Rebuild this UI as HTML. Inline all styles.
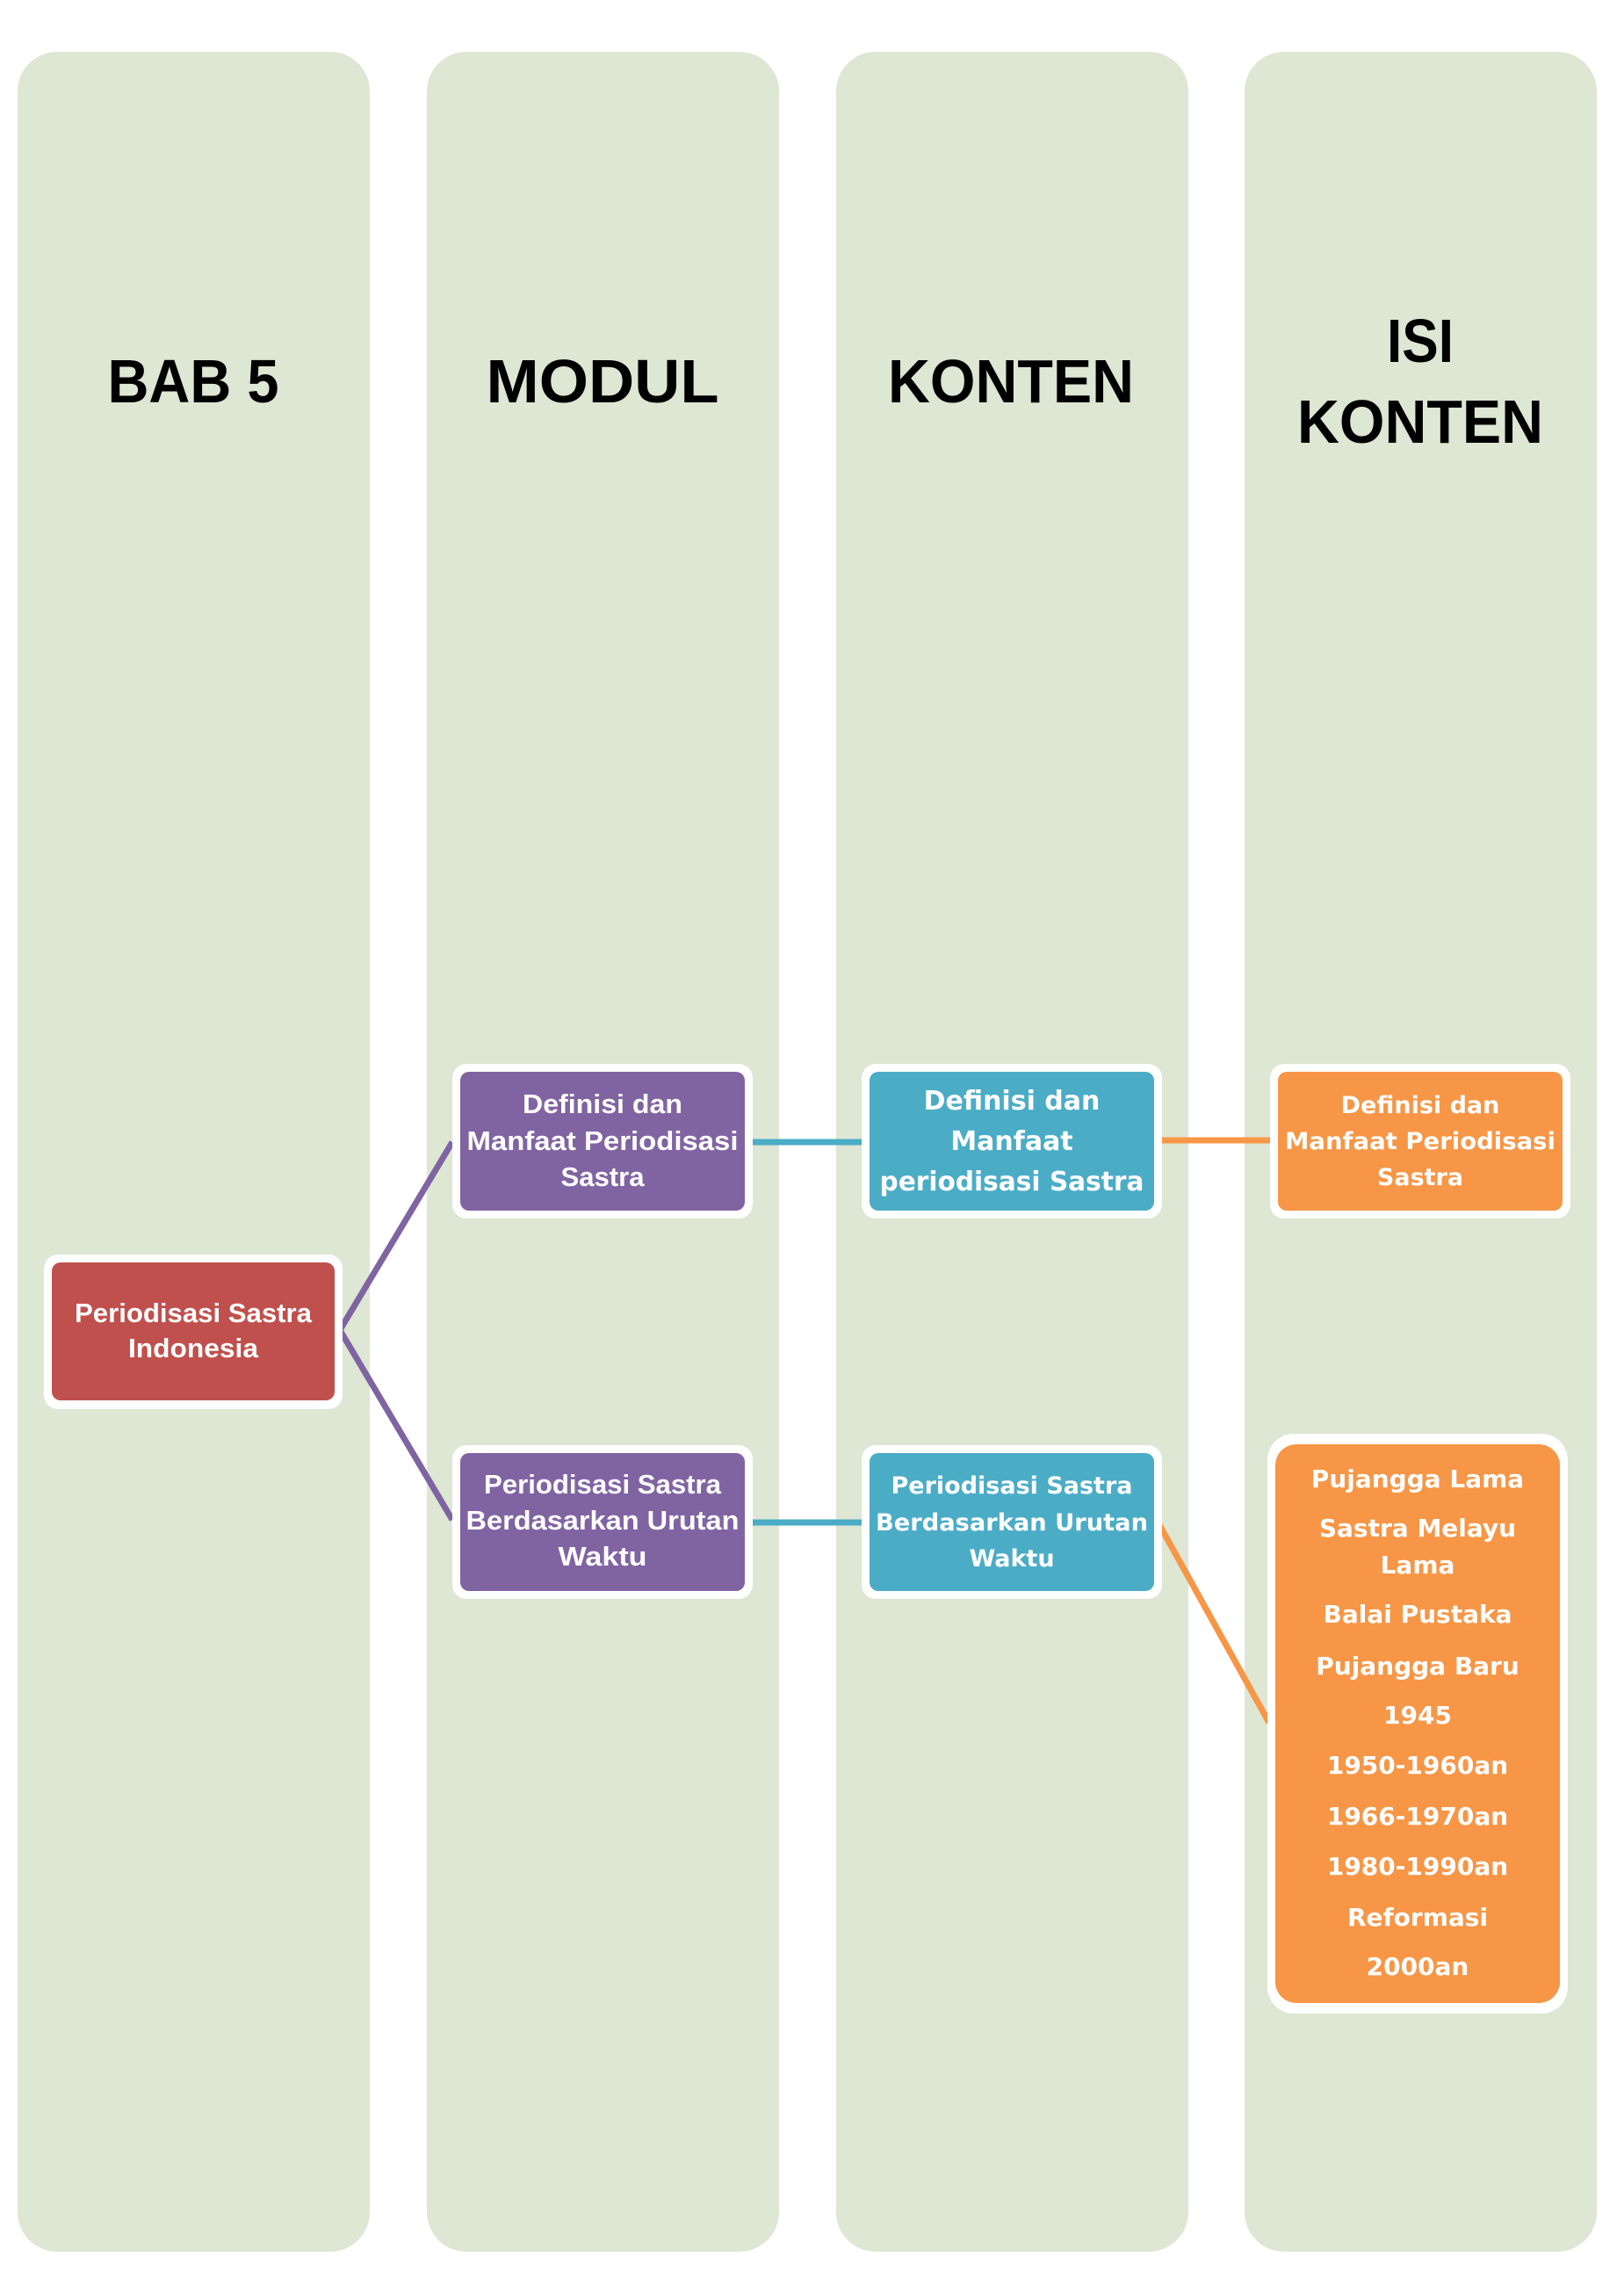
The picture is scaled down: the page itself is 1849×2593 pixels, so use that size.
<!DOCTYPE html>
<html><head><meta charset="utf-8"><style>
html,body{margin:0;padding:0;background:#fff;}
svg{display:block;}
.t{font-family:"Liberation Sans",sans-serif;font-weight:bold;text-anchor:middle;}
.h{font-size:70px;fill:#000;}
.p{font-size:31px;fill:#fff;}
.v{font-family:"DejaVu Sans","Liberation Sans",sans-serif;font-weight:bold;text-anchor:middle;fill:#fff;}
</style></head><body>
<svg width="1849" height="2593" viewBox="0 0 1849 2593" xmlns="http://www.w3.org/2000/svg">
<rect x="0" y="0" width="1849" height="2593" fill="#fff"/>
<g fill="#dde7d3">
<rect x="20" y="59" width="401" height="2504" rx="45" ry="45"/>
<rect x="486" y="59" width="401" height="2504" rx="45" ry="45"/>
<rect x="952" y="59" width="401" height="2504" rx="45" ry="45"/>
<rect x="1417" y="59" width="401" height="2504" rx="45" ry="45"/>
</g>
<text class="t h" x="220" y="458" textLength="195" lengthAdjust="spacingAndGlyphs">BAB 5</text>
<text class="t h" x="686" y="458" textLength="265" lengthAdjust="spacingAndGlyphs">MODUL</text>
<text class="t h" x="1151" y="458" textLength="280" lengthAdjust="spacingAndGlyphs">KONTEN</text>
<text class="t h" x="1617" y="412" textLength="76" lengthAdjust="spacingAndGlyphs">ISI</text>
<text class="t h" x="1617" y="504" textLength="280" lengthAdjust="spacingAndGlyphs">KONTEN</text>

<!-- connectors -->
<polyline points="515,1300 387,1514 515,1730" fill="none" stroke="#8064a2" stroke-width="7"/>
<line x1="851" y1="1300" x2="985" y2="1300" stroke="#4bacc6" stroke-width="7"/>
<line x1="851" y1="1733" x2="985" y2="1733" stroke="#4bacc6" stroke-width="7"/>
<line x1="1320" y1="1298" x2="1450" y2="1298" stroke="#f79646" stroke-width="7"/>
<line x1="1318" y1="1732" x2="1445" y2="1961" stroke="#f79646" stroke-width="7"/>

<!-- red -->
<rect x="50" y="1428" width="340" height="176" rx="16" fill="#fff"/>
<rect x="59" y="1437" width="322" height="157" rx="10" fill="#c0504d"/>
<text class="t p" x="220" y="1505" textLength="270" lengthAdjust="spacingAndGlyphs">Periodisasi Sastra</text>
<text class="t p" x="220" y="1545" textLength="148" lengthAdjust="spacingAndGlyphs">Indonesia</text>

<!-- purple -->
<rect x="515" y="1211" width="342" height="176" rx="16" fill="#fff"/>
<rect x="524" y="1220" width="324" height="158" rx="10" fill="#8064a2"/>
<text class="t p" x="686" y="1267" textLength="182" lengthAdjust="spacingAndGlyphs">Definisi dan</text>
<text class="t p" x="686" y="1309" textLength="309" lengthAdjust="spacingAndGlyphs">Manfaat Periodisasi</text>
<text class="t p" x="686" y="1350" textLength="95" lengthAdjust="spacingAndGlyphs">Sastra</text>

<rect x="515" y="1645" width="342" height="175" rx="16" fill="#fff"/>
<rect x="524" y="1654" width="324" height="157" rx="10" fill="#8064a2"/>
<text class="t p" x="686" y="1700" textLength="270" lengthAdjust="spacingAndGlyphs">Periodisasi Sastra</text>
<text class="t p" x="686" y="1741" textLength="311" lengthAdjust="spacingAndGlyphs">Berdasarkan Urutan</text>
<text class="t p" x="686" y="1782" textLength="101" lengthAdjust="spacingAndGlyphs">Waktu</text>

<!-- blue -->
<rect x="981" y="1211" width="342" height="176" rx="16" fill="#fff"/>
<rect x="990" y="1220" width="324" height="158" rx="10" fill="#4bacc6"/>
<text class="v" font-size="30" x="1152" y="1263">Definisi dan</text>
<text class="v" font-size="30" x="1152" y="1309">Manfaat</text>
<text class="v" font-size="30" x="1152" y="1355" textLength="301" lengthAdjust="spacingAndGlyphs">periodisasi Sastra</text>

<rect x="981" y="1645" width="342" height="175" rx="16" fill="#fff"/>
<rect x="990" y="1654" width="324" height="157" rx="10" fill="#4bacc6"/>
<text class="v" font-size="27" x="1152" y="1700">Periodisasi Sastra</text>
<text class="v" font-size="27" x="1152" y="1742" textLength="310" lengthAdjust="spacingAndGlyphs">Berdasarkan Urutan</text>
<text class="v" font-size="27" x="1152" y="1783">Waktu</text>

<!-- orange -->
<rect x="1446" y="1211" width="342" height="176" rx="16" fill="#fff"/>
<rect x="1455" y="1220" width="324" height="158" rx="10" fill="#f79646"/>
<text class="v" font-size="27" x="1617" y="1267">Definisi dan</text>
<text class="v" font-size="27" x="1617" y="1308" textLength="308" lengthAdjust="spacingAndGlyphs">Manfaat Periodisasi</text>
<text class="v" font-size="27" x="1617" y="1349">Sastra</text>

<rect x="1443" y="1632" width="342" height="660" rx="30" fill="#fff"/>
<rect x="1452" y="1644" width="324" height="636" rx="24" fill="#f79646"/>
<g class="v" font-size="28">
<text x="1614" y="1693">Pujangga Lama</text>
<text x="1614" y="1749">Sastra Melayu</text>
<text x="1614" y="1791">Lama</text>
<text x="1614" y="1847">Balai Pustaka</text>
<text x="1614" y="1906">Pujangga Baru</text>
<text x="1614" y="1962">1945</text>
<text x="1614" y="2019">1950-1960an</text>
<text x="1614" y="2077">1966-1970an</text>
<text x="1614" y="2134">1980-1990an</text>
<text x="1614" y="2192">Reformasi</text>
<text x="1614" y="2248">2000an</text>
</g>
</svg>
</body></html>
